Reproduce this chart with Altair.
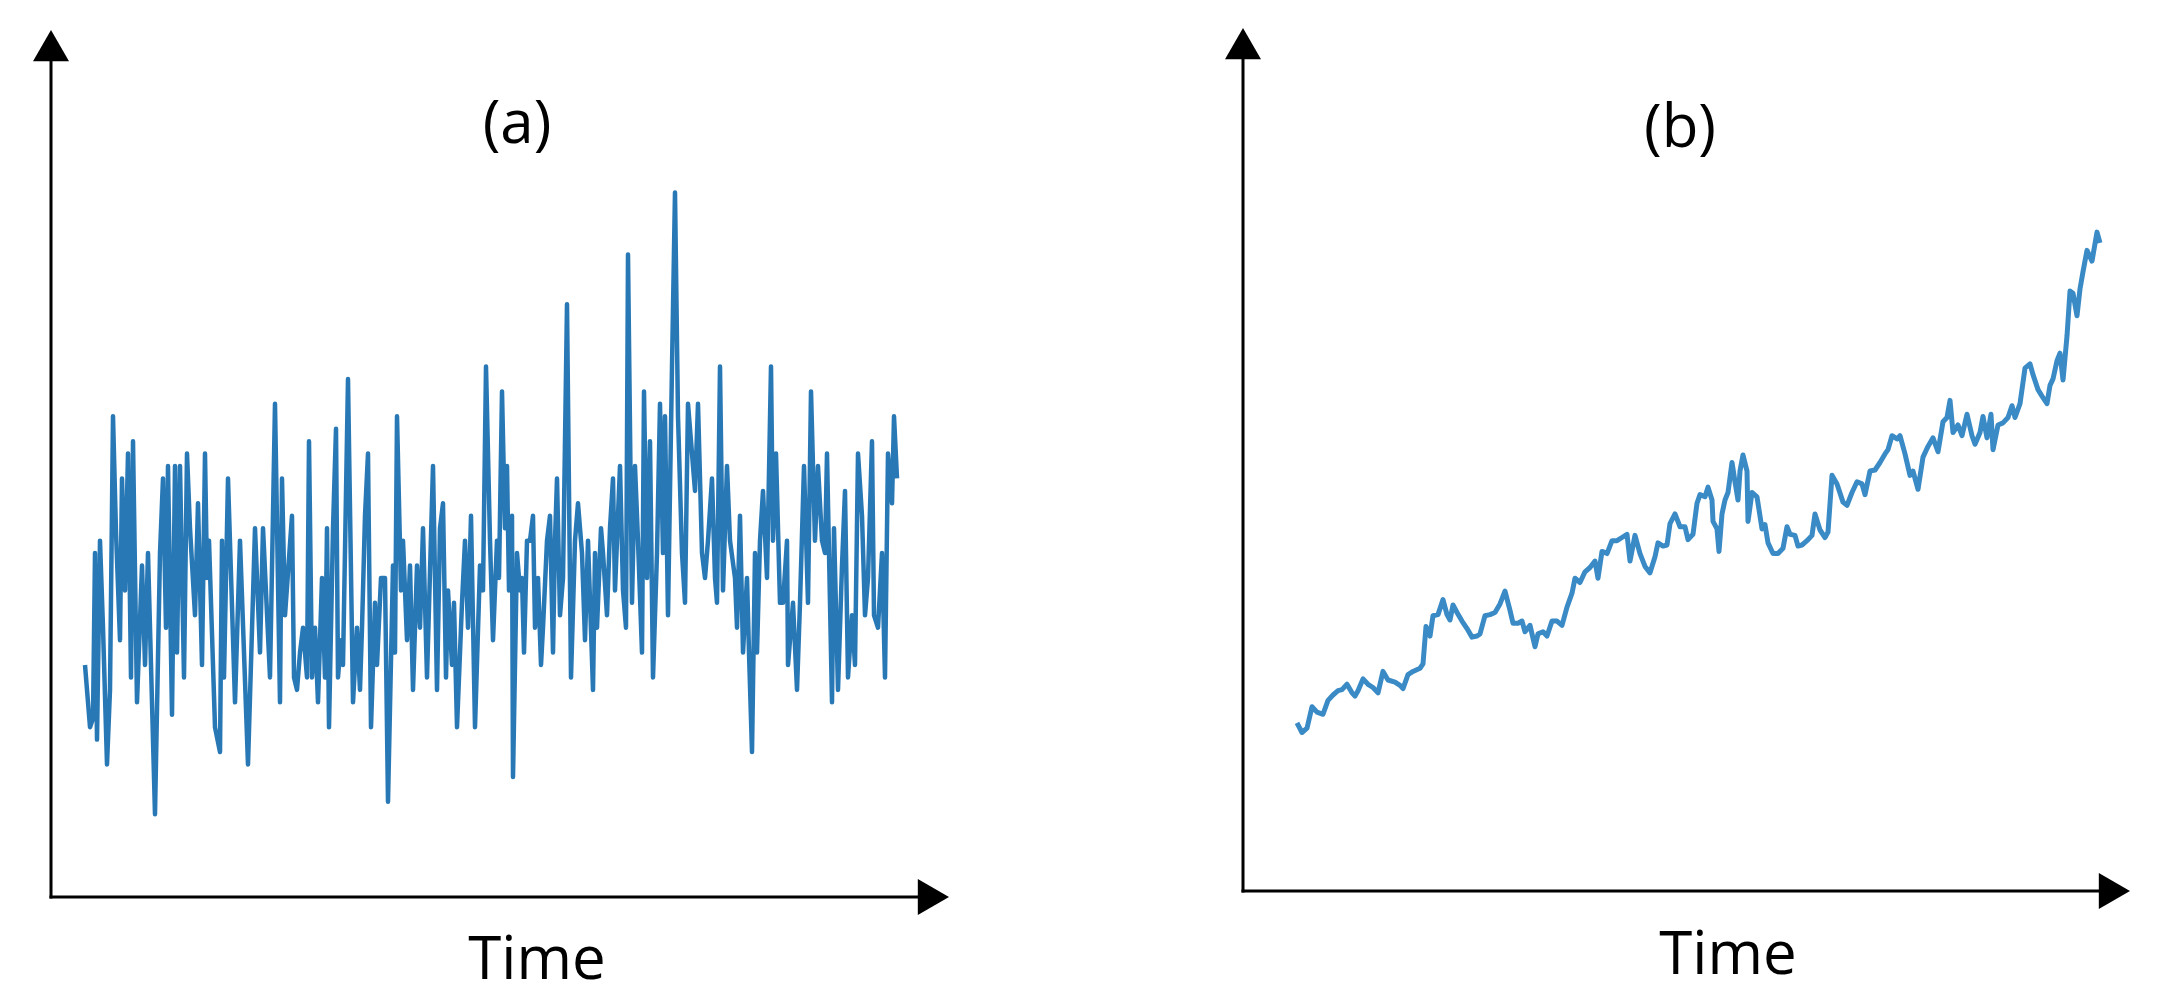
import altair as alt
import pandas as pd

# ---------------- data ----------------
# Panel (a): noisy stationary series (time offset, level in read units)
a_t = [0, 5, 8, 10, 12, 15, 18, 22, 25, 28, 31, 35, 37, 40, 43, 46, 48, 52, 57, 60,
       63, 70, 75, 78, 81, 83, 87, 90, 92, 95, 99, 102, 105, 110, 113, 117, 120, 122, 124, 130,
       135, 137, 139, 143, 150, 155, 163, 170, 175, 178, 185, 190, 195, 197, 200,
       207, 209, 212, 215, 218, 222, 224, 227, 230, 233, 237, 240, 242, 244, 248, 251, 253, 256, 258, 263,
       268, 272, 275, 277, 280, 283, 286, 290, 292, 296, 300, 303, 308, 310, 312, 316, 318, 322, 325, 328,
       332, 335, 338, 342, 348, 352, 355, 358, 361, 363, 367, 369, 372, 377, 380, 383, 386, 390, 395, 398, 401,
       405, 408, 412, 414, 417, 420, 422, 424, 427, 428, 432, 435, 437, 439, 442, 445, 448, 450, 453, 456,
       458, 462, 465, 468, 470, 472, 475, 478, 482, 486, 490, 493, 497, 500, 503, 508, 510, 512, 516, 518,
       522, 525, 528, 530, 532, 535, 538, 541, 543, 547, 550, 553, 557, 559, 562, 565, 568, 572, 575, 578,
       580, 583, 587, 590, 593, 597, 600, 603,
       610, 613, 617, 620, 623, 627, 630, 632, 635, 638, 642, 645, 650, 652, 655, 658, 662, 664, 667, 670,
       672, 675, 678, 682, 686, 688, 691, 695, 698, 702, 703, 708, 712, 715, 719, 723, 726, 730, 733, 737,
       740, 742, 747, 749, 753, 757, 760, 763, 767, 770, 773, 777, 780, 783, 787, 789, 793, 797, 800, 803,
       807, 809, 812]
a_v = [327, 277, 284, 417, 267, 427, 357, 247, 307, 527, 434, 347, 477, 387, 497, 317, 507, 297, 407, 327,
       417, 207, 417, 477, 357, 487, 287, 487, 337, 487, 317, 497, 437, 367, 457, 327, 497, 397, 427, 277,
       257, 427, 317, 477, 297, 427, 247, 437, 337, 437, 317, 537, 297, 477, 367,
       447, 317, 307, 337, 357, 317, 507, 317, 357, 297, 397, 317, 437, 277, 437, 517, 317, 347, 327, 557,
       297, 357, 307, 357, 447, 497, 277, 377, 327, 397, 397, 217, 407, 337, 527, 387, 427, 347, 407, 307,
       407, 357, 437, 317, 487, 307, 437, 457, 317, 387, 327, 377, 277, 377, 427, 357, 447, 277, 407, 387, 567,
       427, 347, 427, 397, 547, 437, 487, 387, 447, 237, 417, 387, 397, 337, 427, 427, 447, 357, 397, 327,
       357, 427, 447, 337, 427, 477, 367, 397, 617, 317, 427, 457, 417, 347, 427, 307, 417, 357, 437, 417,
       367, 437, 477, 387, 427, 487, 387, 357, 657, 377, 487, 427, 337, 547, 397, 507, 317, 417, 537, 417,
       527, 367, 567, 707, 527, 417, 377, 537,
       467, 537, 417, 397, 427, 477, 397, 377, 567, 387, 487, 427, 397, 357, 447, 337, 397, 337, 257, 417,
       337, 427, 467, 397, 567, 427, 497, 377, 377, 427, 327, 377, 307, 377, 487, 377, 547, 427, 487, 427,
       417, 497, 297, 437, 307, 407, 467, 317, 367, 327, 497, 447, 367, 397, 507, 367, 357, 417, 317, 497,
       457, 527, 477]

# Panel (b): trending random walk (time offset, level in read units)
b_t = [0, 5, 10, 15, 20, 26, 31, 36, 41, 45, 50, 55, 58, 61, 66, 71, 76, 81, 86, 91,
       98, 103, 106, 111, 116, 123, 126, 129, 133, 136, 141, 146, 150, 153, 156, 160, 165, 170, 175, 180,
       183, 188, 193, 198, 203, 208, 213, 216, 221, 225, 228, 233, 238, 241, 246, 250, 255, 260, 265, 270,
       275, 278, 283, 288, 293, 298, 301, 305, 310, 315, 320, 325, 330, 333, 338, 343, 348, 353, 358, 361,
       366, 370, 373, 378, 383, 388, 391, 396,
       400, 403, 408, 411, 415, 416, 420, 422, 425, 428, 431, 435, 438, 441, 443, 446, 450, 451, 455, 460,
       465, 468, 471, 476, 481, 486, 490, 493, 498, 501, 505, 510, 515, 518, 523, 528, 531, 535, 540, 546,
       550, 555, 560, 565, 568, 573, 578, 583, 588, 591, 595, 600, 603, 608, 613, 616, 621, 626, 631, 636,
       641, 646, 650, 653, 656, 661, 665, 670, 675, 678, 683, 686, 690, 694, 696, 701, 706, 711, 715, 718,
       723, 728, 733, 736, 741, 745, 750, 753, 756, 760, 763, 766, 770, 773, 776, 780, 783, 786, 790, 795,
       800, 803]
b_v = [203, 194, 198, 218, 213, 211, 224, 229, 233, 234, 239, 231, 228, 233, 244, 239, 236, 231, 251, 243,
       241, 238, 235, 248, 251, 254, 258, 293, 284, 303, 304, 318, 304, 299, 313, 306, 298, 291, 283, 284,
       286, 303, 304, 306, 314, 326, 308, 296, 296, 298, 288, 294, 274, 286, 288, 284, 298, 298, 294, 311,
       324, 338, 334, 344, 348, 354, 338, 363, 361, 373, 373, 376, 379, 354, 378, 361, 349, 343, 358, 371,
       368, 369, 389, 398, 386, 386, 374, 379,
       408, 416, 414, 423, 411, 391, 384, 363, 398, 411, 418, 446, 428, 411, 438, 453, 438, 391, 418, 414,
       384, 388, 371, 361, 361, 366, 386, 379, 378, 368, 369, 373, 378, 398, 383, 376, 381, 434, 426, 409,
       406, 418, 428, 426, 416, 438, 439, 446, 454, 458, 471, 468, 471, 454, 434, 438, 421, 451, 461, 469,
       456, 484, 488, 504, 474, 481, 471, 491, 471, 463, 474, 489, 469, 491, 458, 481, 483, 488, 499, 488,
       501, 534, 538, 528, 514, 508, 501, 518, 524, 541, 548, 523, 564, 606, 604, 583, 608, 624, 644, 634,
       661, 651]

panel_titles = ["(a)", "(b)"]
x_title = "Time"

# ---------------- layout (page pixels) ----------------
PAGE0 = 8
H = 990
A_W, B_W = 1060, 1095
ARROW = 36          # arrow-head width in px
FONT = "Open Sans"


def make_panel(t, v, left, width, t0_px, vref, vref_px, ppu,
               axis_x_px, axis_y_px, tip_top_px, tip_right_px,
               title, title_xy, label_xy, color, sw):
    def tx(px):
        return px - t0_px

    def vy(py):
        return vref - (py - vref_px) / ppu

    xs = alt.Scale(domain=[tx(left), tx(left + width)], nice=False, zero=False)
    ys = alt.Scale(domain=[vy(PAGE0 + H), vy(PAGE0)], nice=False, zero=False)

    half = ARROW * 0.866 / 2
    ax, ay = tx(axis_x_px), vy(axis_y_px)
    up_c = vy(tip_top_px + half)
    right_c = tx(tip_right_px - half)

    series = pd.DataFrame({"t": t, "v": v})
    line = alt.Chart(series).mark_line(color=color, strokeWidth=sw, strokeJoin="round").encode(
        x=alt.X("t:Q", scale=xs, axis=None),
        y=alt.Y("v:Q", scale=ys, axis=None),
    )

    rules_df = pd.DataFrame({"x": [ax, ax], "x2": [ax, right_c],
                             "y": [ay, ay], "y2": [up_c, ay]})
    rules = alt.Chart(rules_df).mark_rule(color="black", strokeWidth=3, strokeCap="square").encode(
        x=alt.X("x:Q", scale=xs, axis=None), x2="x2:Q",
        y=alt.Y("y:Q", scale=ys, axis=None), y2="y2:Q",
    )

    heads_df = pd.DataFrame({"x": [ax, right_c], "y": [up_c, ay],
                             "shape": ["triangle-up", "triangle-right"]})
    heads = alt.Chart(heads_df).mark_point(filled=True, color="black", opacity=1,
                                           size=ARROW * ARROW, strokeWidth=0).encode(
        x=alt.X("x:Q", scale=xs, axis=None),
        y=alt.Y("y:Q", scale=ys, axis=None),
        shape=alt.Shape("shape:N", scale=None, legend=None),
    )

    text_df = pd.DataFrame({"x": [tx(title_xy[0]), tx(label_xy[0])],
                            "y": [vy(title_xy[1]), vy(label_xy[1])],
                            "label": [title, x_title]})
    texts = alt.Chart(text_df).mark_text(font=FONT, fontSize=60, color="black",
                                         align="center", baseline="alphabetic").encode(
        x=alt.X("x:Q", scale=xs, axis=None),
        y=alt.Y("y:Q", scale=ys, axis=None),
        text="label:N",
    )

    return alt.layer(rules, heads, line, texts).properties(width=width, height=H)


panel_a = make_panel(a_t, a_v, left=PAGE0, width=A_W, t0_px=85,
                     vref=717, vref_px=180, ppu=1.2436,
                     axis_x_px=51, axis_y_px=897, tip_top_px=30, tip_right_px=949,
                     title=panel_titles[0], title_xy=(517, 143), label_xy=(537, 979),
                     color="#2878b6", sw=4.5)

panel_b = make_panel(b_t, b_v, left=PAGE0 + A_W, width=B_W, t0_px=1297,
                     vref=691, vref_px=200, ppu=1.0714,
                     axis_x_px=1243, axis_y_px=891, tip_top_px=28, tip_right_px=2130,
                     title=panel_titles[1], title_xy=(1680, 147), label_xy=(1728, 974),
                     color="#3a8ac6", sw=5)

chart = alt.hconcat(panel_a, panel_b, spacing=0, bounds="flush").properties(
    padding=0, background="white"
).configure_view(stroke=None)

chart.save("out.html", embed_options={"renderer": "svg", "actions": False})
